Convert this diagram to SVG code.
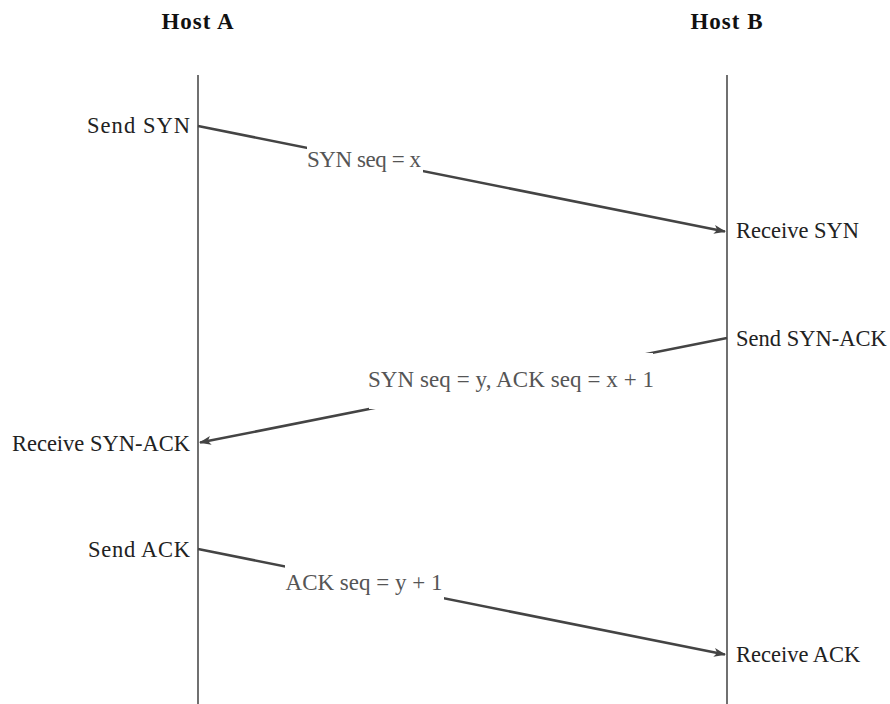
<svg xmlns="http://www.w3.org/2000/svg" width="890" height="704" viewBox="0 0 890 704">
<defs>
<marker id="ah" markerWidth="12" markerHeight="10" refX="11" refY="5" orient="auto" markerUnits="userSpaceOnUse">
<path d="M0,0.5 L12,5 L0,9.5 L3,5 Z" fill="#444"/>
</marker>
<style>
.host{font-family:"Liberation Serif","DejaVu Serif",serif;font-size:23px;font-weight:bold;fill:#111;text-anchor:middle;letter-spacing:1px}
.ev{font-family:"Liberation Serif","DejaVu Serif",serif;font-size:22.5px;fill:#222}
.lbl{font-family:"Liberation Serif","DejaVu Serif",serif;font-size:23px;fill:#555;text-anchor:middle}
.life{stroke:#111;stroke-width:1.2}
.msg{stroke:#444;stroke-width:2.5;fill:none}
.bg{fill:#fff}
</style>
</defs>
<rect width="890" height="704" fill="#fff"/>
<g id="hostA">
<text class="host" x="198" y="29">Host  A</text>
<line class="life" x1="198" y1="75" x2="198" y2="704"/>
</g>
<g id="hostB">
<text class="host" x="727" y="29">Host  B</text>
<line class="life" x1="727" y1="75" x2="727" y2="704"/>
</g>
<g id="connectors">
<line class="msg" x1="198" y1="126" x2="725" y2="231.6" marker-end="url(#ah)"/>
<line class="msg" x1="727" y1="338" x2="200" y2="442.6" marker-end="url(#ah)"/>
<line class="msg" x1="198" y1="549" x2="725" y2="654.6" marker-end="url(#ah)"/>
</g>
<g id="label-syn">
<rect class="bg" x="307" y="133" width="116" height="56"/>
<text class="lbl" x="364" y="167" textLength="114">SYN seq = x</text>
</g>
<g id="label-synack">
<rect class="bg" x="369" y="353" width="284" height="56"/>
<text class="lbl" x="511" y="387" textLength="286">SYN seq = y, ACK seq = x + 1</text>
</g>
<g id="label-ack">
<rect class="bg" x="285" y="555" width="159" height="56"/>
<text class="lbl" x="364" y="590" textLength="157">ACK seq = y + 1</text>
</g>
<g id="send-syn"><text class="ev" x="190" y="133" text-anchor="end" textLength="103">Send SYN</text></g>
<g id="receive-syn"><text class="ev" x="736" y="238">Receive SYN</text></g>
<g id="send-synack"><text class="ev" x="736" y="346">Send SYN-ACK</text></g>
<g id="receive-synack"><text class="ev" x="190" y="451" text-anchor="end">Receive SYN-ACK</text></g>
<g id="send-ack"><text class="ev" x="190" y="557" text-anchor="end" textLength="102">Send ACK</text></g>
<g id="receive-ack"><text class="ev" x="736" y="662">Receive ACK</text></g>
</svg>
